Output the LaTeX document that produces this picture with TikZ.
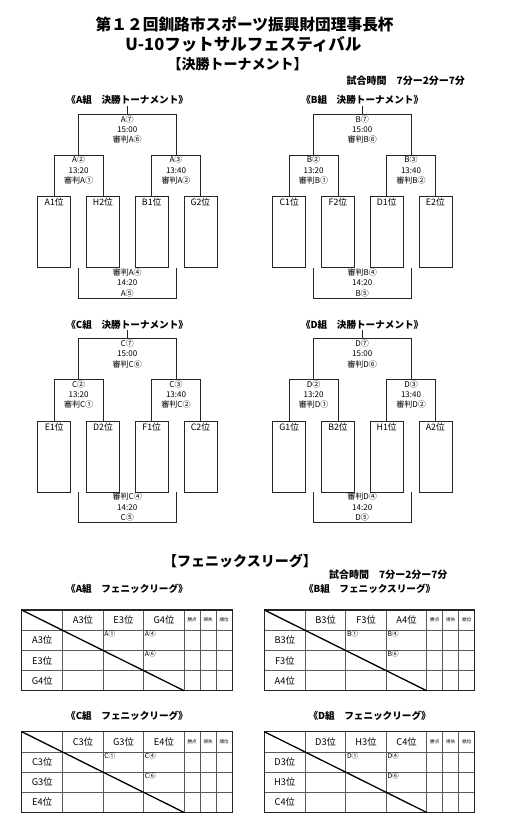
\documentclass[tikz,border=0pt]{standalone}
\usepackage{fontspec}
\setmainfont{Noto Sans CJK JP}
\newcommand\ktourn[7]{%
\begin{scope}[shift={(#1,#2)}]
 \node[gttl] (#3-title) at (127.2,100) {《#3組　決勝トーナメント》};
 \node[teambox, label={[blbl]north:#4}] (#3-b1) at (54.2,196) {};
 \node[teambox, label={[blbl]north:#5}] (#3-b2) at (103,196) {};
 \node[teambox, label={[blbl]north:#6}] (#3-b3) at (151.7,196) {};
 \node[teambox, label={[blbl]north:#7}] (#3-b4) at (200.4,196) {};
 \coordinate (#3-m1) at (78.6,155.3);
 \coordinate (#3-m2) at (176,155.3);
 \coordinate (#3-m3) at (127.2,114.3);
 \coordinate (#3-m4) at (127.2,298.3);
 \draw[ln] (#3-b1.north) |- (#3-m1) -| (#3-b2.north);
 \draw[ln] (#3-b3.north) |- (#3-m2) -| (#3-b4.north);
 \draw[ln] (#3-m1) |- (#3-m3) -| (#3-m2);
 \draw[ln] (#3-m3) -- (#3-title.south);
 \draw[ln] (#3-m1 |- #3-b1.south) |- (#3-m4) -| (#3-m2 |- #3-b1.south);
 \node[mtxt] (#3-t7) at (127.2,129.3) {#3⑦\\15:00\\審判#3⑥};
 \node[mtxt] (#3-t2) at (78.6,170) {#3②\\13:20\\審判#3①};
 \node[mtxt] (#3-t3) at (176,170) {#3③\\13:40\\審判#3②};
 \node[mtxt] (#3-t5) at (127.2,282.7) {審判#3④\\14:20\\#3⑤};
\end{scope}}
\newcommand\kleague[8]{%
\begin{scope}[shift={(#1,#2)}]
 \node[lttl] (#3-ltitle) at (127,#8) {#4};
 \foreach \x in {62.7,103.2,143.7,184.2,200.2,216.2} \draw[gridln] (\x,610) -- (\x,690.8);
 \foreach \y in {630.2,650.4,670.6} \draw[gridln] (21.7,\y) -- (232.2,\y);
 \draw[outerln] (21.7,610) rectangle (232.2,690.8);
 \draw[diagln] (21.7,610) -- (184.2,690.8);
 \node[hd] (#3-h1) at (82.95,620.1) {#5};
 \node[hd] (#3-h2) at (123.45,620.1) {#6};
 \node[hd] (#3-h3) at (163.95,620.1) {#7};
 \node[smhd] (#3-s1) at (192.2,620.1) {勝点};
 \node[smhd] (#3-s2) at (208.2,620.1) {得失};
 \node[smhd] (#3-s3) at (224.2,620.1) {順位};
 \node[hd] (#3-r1) at (42.2,640.3) {#5};
 \node[hd] (#3-r2) at (42.2,660.5) {#6};
 \node[hd] (#3-r3) at (42.2,680.7) {#7};
 \node[mk] (#3-c1) at (104.2,630.6) {#3①};
 \node[mk] (#3-c4) at (144.7,630.6) {#3④};
 \node[mk] (#3-c6) at (144.7,650.8) {#3⑥};
\end{scope}}
\begin{document}
\begin{tikzpicture}[x=1pt,y=-1pt,
  ln/.style={line width=0.8pt, black!85},
  teambox/.style={draw, ln, minimum width=33pt, minimum height=71pt, inner sep=0pt, anchor=north},
  blbl/.style={anchor=center, yshift=-6.3pt, inner sep=0pt, font=\fontsize{8.8}{10}\selectfont},
  mtxt/.style={font=\fontsize{8}{10.3}\selectfont, align=center, inner sep=0pt},
  gttl/.style={font=\bfseries\fontsize{9.6}{11}\selectfont, inner sep=1pt},
  lttl/.style={font=\bfseries\fontsize{9.6}{11}\selectfont, inner sep=1pt},
  maint/.style={font=\bfseries\fontsize{15.7}{18}\selectfont, inner sep=0pt},
  subt/.style={font=\bfseries\fontsize{14}{16}\selectfont, inner sep=0pt},
  timet/.style={font=\bfseries\fontsize{10}{12}\selectfont, inner sep=0pt},
  gridln/.style={line width=0.7pt, black!65},
  outerln/.style={line width=1.3pt, black!85},
  diagln/.style={line width=1.3pt, black},
  hd/.style={font=\fontsize{9.3}{11}\selectfont, inner sep=0pt},
  smhd/.style={font=\fontsize{4.6}{5}\selectfont, inner sep=0pt},
  mk/.style={font=\fontsize{6.8}{7}\selectfont, inner sep=0pt, anchor=north west}]
\useasboundingbox (0,0) rectangle (513,830);
\fill[white] (0,0) rectangle (513,830);
\node[maint] (title1) at (244.7,24) {第１２回釧路市スポーツ振興財団理事長杯};
\node[maint, font=\bfseries\fontsize{16.5}{18}\selectfont] (title2) at (243.3,44) {U-10フットサルフェスティバル};
\node[subt] (title3) at (237.5,64.3) {【決勝トーナメント】};
\node[timet] (time1) at (405.8,81) {試合時間　7分ー2分ー7分};
\ktourn{0}{0}{A}{A1位}{H2位}{B1位}{G2位}
\ktourn{235}{0}{B}{C1位}{F2位}{D1位}{E2位}
\ktourn{0}{224.5}{C}{E1位}{D2位}{F1位}{C2位}
\ktourn{235}{224.5}{D}{G1位}{B2位}{H1位}{A2位}
\node[subt] (title4) at (240,560.7) {【フェニックスリーグ】};
\node[timet] (time2) at (388.3,574.3) {試合時間　7分ー2分ー7分};
\kleague{0}{0}{A}{《A組　フェニックリーグ》}{A3位}{E3位}{G4位}{588.3}
\kleague{242.6}{0}{B}{《B組　フェニックスリーグ》}{B3位}{F3位}{A4位}{588.3}
\kleague{0}{121.7}{C}{《C組　フェニックリーグ》}{C3位}{G3位}{E4位}{594}
\kleague{242.6}{121.7}{D}{《D組　フェニックリーグ》}{D3位}{H3位}{C4位}{594}
\end{tikzpicture}
\end{document}
